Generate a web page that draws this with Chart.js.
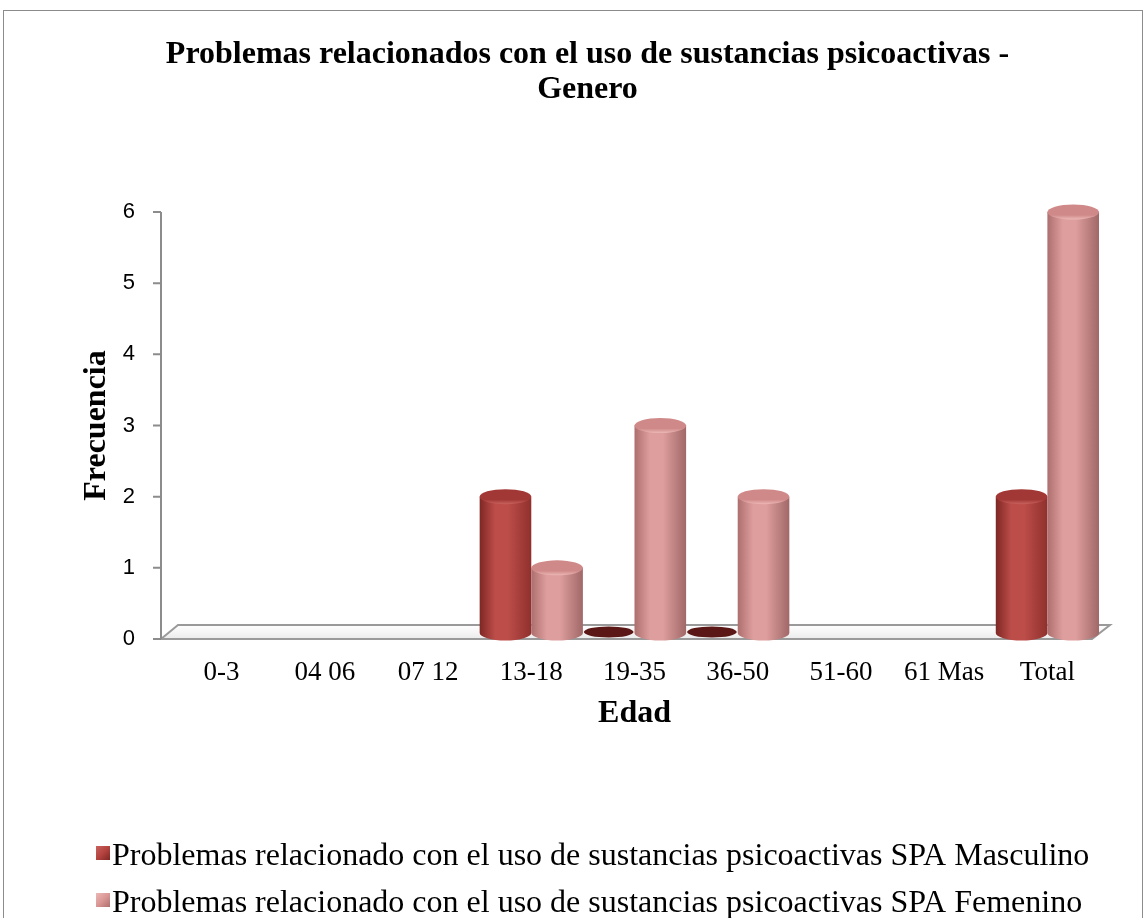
<!DOCTYPE html>
<html>
<head>
<meta charset="utf-8">
<script src="https://cdn.jsdelivr.net/npm/chart.js@4/dist/chart.umd.min.js"></script>
<style>
html,body{margin:0;padding:0;background:#fff;overflow:hidden;width:1146px;height:918px}
#wrap{position:absolute;left:0;top:0;width:1146px;height:918px}
#frame{position:absolute;left:3px;top:10px;width:1138px;height:980px;border:1px solid #8c8c8c;pointer-events:none}
</style>
</head>
<body>
<div id="wrap"><canvas id="c" width="1146" height="918"></canvas></div>
<div id="frame"></div>
<script>
// ---- data ----
const categories = ['0-3', '04 06', '07 12', '13-18', '19-35', '36-50', '51-60', '61 Mas', 'Total'];
const masculino  = [null, null, null, 2, 0, 0, null, null, 2];
const femenino   = [null, null, null, 1, 3, 2, null, null, 6];
const yTicks     = [0, 1, 2, 3, 4, 5, 6];
const seriesNames = [
  'Problemas relacionado con el uso de sustancias psicoactivas SPA Masculino',
  'Problemas relacionado con el uso de sustancias psicoactivas SPA Femenino'
];
const titleLines = ['Problemas relacionados con el uso de sustancias psicoactivas -', 'Genero'];
const xTitle = 'Edad';
const yTitle = 'Frecuencia';

// ---- styles ----
const SERIF = "'Liberation Serif', 'Times New Roman', serif";
const SANS = "'Liberation Sans', Arial, sans-serif";
const palettes = [
  {l:'#7e2724', m:'#bd4d49', r:'#8f302d', top:'#a23835', rim:'#c9625e', zero:'#5a1715', box:'#b4433f'},
  {l:'#ad6f6e', m:'#de9e9d', r:'#a06867', top:'#cf8988', rim:'#ecb8b6', zero:'#7a3a39', box:'#d99694'}
];

const threeD = {
  id: 'threeD',
  beforeDatasetsDraw(chart) {
    const {ctx, chartArea: a, scales: {y}} = chart;
    const y0 = y.getPixelForValue(0);
    const yTop = y.getPixelForValue(yTicks[yTicks.length - 1]);
    ctx.save();
    // floor
    ctx.beginPath();
    ctx.moveTo(a.left - 9, y0);
    ctx.lineTo(a.left + 8, y0 - 14);
    ctx.lineTo(a.right + 11, y0 - 14);
    ctx.lineTo(a.right - 7, y0);
    ctx.closePath();
    const fg = ctx.createLinearGradient(0, y0 - 14, 0, y0);
    fg.addColorStop(0, '#ffffff');
    fg.addColorStop(1, '#ebebeb');
    ctx.fillStyle = fg;
    ctx.fill();
    ctx.strokeStyle = '#9a9a9a';
    ctx.lineWidth = 2;
    ctx.stroke();
    // y axis line + tick marks
    ctx.beginPath();
    ctx.moveTo(a.left - 9, yTop);
    ctx.lineTo(a.left - 9, y0);
    yTicks.forEach(v => {
      const py = y.getPixelForValue(v);
      ctx.moveTo(a.left - 17, py);
      ctx.lineTo(a.left - 9, py);
    });
    ctx.strokeStyle = '#8c8c8c';
    ctx.stroke();
    // cylinders
    chart.data.datasets.forEach((ds, di) => {
      const meta = chart.getDatasetMeta(di);
      const pal = palettes[di];
      meta.data.forEach((el, i) => {
        const v = ds.data[i];
        if (v === null || v === undefined) return;
        const p = el.getProps(['x', 'y', 'base', 'width'], true);
        const cx = p.x, top = p.y, base = p.base, w = p.width;
        const rx = w / 2, ry = 7.5, l = cx - rx, r = cx + rx, bc = base - 6;
        if (v === 0) {
          ctx.beginPath();
          ctx.ellipse(cx, base - 7, rx - 1, 5.5, 0, 0, Math.PI * 2);
          ctx.fillStyle = pal.zero;
          ctx.fill();
          return;
        }
        const g = ctx.createLinearGradient(l, 0, r, 0);
        g.addColorStop(0, pal.l);
        g.addColorStop(0.3, pal.m);
        g.addColorStop(0.55, pal.m);
        g.addColorStop(1, pal.r);
        ctx.beginPath();
        ctx.moveTo(l, top);
        ctx.lineTo(l, bc);
        ctx.ellipse(cx, bc, rx, ry, 0, Math.PI, 0, true);
        ctx.lineTo(r, top);
        ctx.closePath();
        ctx.fillStyle = g;
        ctx.fill();
        const tg = ctx.createLinearGradient(0, top - ry, 0, top + ry);
        tg.addColorStop(0, pal.top);
        tg.addColorStop(0.7, pal.top);
        tg.addColorStop(1, pal.rim);
        ctx.beginPath();
        ctx.ellipse(cx, top, rx, ry, 0, 0, Math.PI * 2);
        ctx.fillStyle = tg;
        ctx.fill();
      });
    });
    ctx.restore();
    return false;
  },
  afterDraw(chart) {
    const ctx = chart.ctx;
    ctx.save();
    ctx.font = '32px ' + SERIF;
    ctx.textBaseline = 'alphabetic';
    ctx.textAlign = 'left';
    chart.data.datasets.forEach((ds, di) => {
      const baseY = 865 + di * 47;
      const pal = palettes[di];
      const bx = 96, by = baseY - 19, bs = 14;
      const g = ctx.createLinearGradient(bx, by, bx + bs, by + bs);
      g.addColorStop(0, pal.rim);
      g.addColorStop(0.5, pal.box);
      g.addColorStop(1, pal.l);
      ctx.fillStyle = g;
      ctx.fillRect(bx, by, bs, bs);
      ctx.fillStyle = '#000';
      ctx.fillText(ds.label, 112, baseY);
    });
    ctx.restore();
  }
};

new Chart(document.getElementById('c'), {
  type: 'bar',
  data: {
    labels: categories,
    datasets: [
      {label: seriesNames[0], data: masculino, backgroundColor: palettes[0].box},
      {label: seriesNames[1], data: femenino, backgroundColor: palettes[1].box}
    ]
  },
  options: {
    responsive: false,
    animation: false,
    events: [],
    layout: {padding: {left: 76, right: 47, top: 0, bottom: 182}},
    datasets: {bar: {categoryPercentage: 1.0, barPercentage: 1.0}},
    plugins: {
      legend: {display: false},
      tooltip: {enabled: false},
      title: {
        display: true,
        text: titleLines,
        color: '#000',
        font: {family: SERIF, size: 32, weight: 'bold', lineHeight: 1.094},
        padding: {top: 37, bottom: 105}
      }
    },
    scales: {
      x: {
        grid: {display: false, drawTicks: false},
        border: {display: false},
        ticks: {color: '#000', font: {family: SERIF, size: 27}, padding: 18, maxRotation: 0, autoSkip: false},
        title: {display: true, text: xTitle, color: '#000', font: {family: SERIF, size: 32, weight: 'bold'}, padding: {top: 0, bottom: 3}},
        afterFit(s) { s.height = 97; }
      },
      y: {
        min: 0, max: 6,
        afterBuildTicks(s) { s.ticks = yTicks.map(v => ({value: v})); },
        grid: {display: false, drawTicks: false},
        border: {display: false},
        ticks: {color: '#000', font: {family: SANS, size: 22}, padding: 35},
        title: {display: true, text: yTitle, color: '#000', font: {family: SERIF, size: 32, weight: 'bold'}, padding: {top: 2, bottom: 0}},
        afterFit(s) { s.width = 94; }
      }
    }
  },
  plugins: [threeD]
});
</script>
</body>
</html>
